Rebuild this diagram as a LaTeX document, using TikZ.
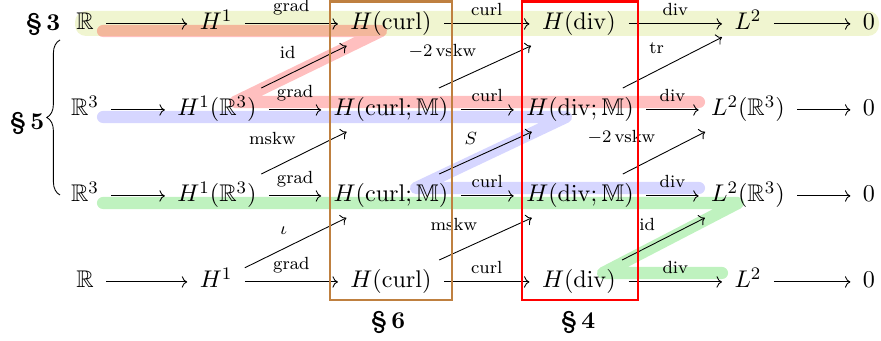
\documentclass[11pt,tikz,border=0pt]{standalone}
\usepackage{amsmath}
\usepackage{amssymb}
\usetikzlibrary{arrows.meta,backgrounds,decorations.pathreplacing}
\definecolor{bandthree}{HTML}{F0F5D0}
\definecolor{secsix}{HTML}{BF8040}

\begin{document}
\begin{tikzpicture}[x=0.454pt, y=-0.454pt,
  sp/.style={anchor=base, inner xsep=5.5pt, inner ysep=4pt, text height=8.5pt, text depth=3pt},
  arr/.style={-{Computer Modern Rightarrow}},
  lbl/.style={font=\scriptsize, midway, above},
  dlbl/.style={font=\scriptsize, midway, above left},
  band/.style={line width=5.5pt, line cap=round, line join=round},
  sec/.style={font=\bfseries}]
\useasboundingbox (0,0) rectangle (881,341);
% row 1: de Rham
\node[sp] (a1) at (85,30) {$\mathbb{R}$};
\node[sp] (b1) at (216,30) {$H^1$};
\node[sp] (c1) at (391,30) {$H(\mathrm{curl})$};
\node[sp] (d1) at (579,30) {$H(\mathrm{div})$};
\node[sp] (e1) at (748,30) {$L^2$};
\node[sp] (f1) at (869,30) {$0$};
% rows 2 and 3: matrix-valued
\node[sp] (a2) at (85,116) {$\mathbb{R}^3$};
\node[sp] (b2) at (217,116) {$H^1(\mathbb{R}^3)$};
\node[sp] (c2) at (391,116) {$H(\mathrm{curl};\mathbb{M})$};
\node[sp] (d2) at (580,116) {$H(\mathrm{div};\mathbb{M})$};
\node[sp] (e2) at (748,116) {$L^2(\mathbb{R}^3)$};
\node[sp] (f2) at (869,116) {$0$};
\node[sp] (a3) at (85,202) {$\mathbb{R}^3$};
\node[sp] (b3) at (217,202) {$H^1(\mathbb{R}^3)$};
\node[sp] (c3) at (391,202) {$H(\mathrm{curl};\mathbb{M})$};
\node[sp] (d3) at (580,202) {$H(\mathrm{div};\mathbb{M})$};
\node[sp] (e3) at (748,202) {$L^2(\mathbb{R}^3)$};
\node[sp] (f3) at (869,202) {$0$};
% row 4
\node[sp] (a4) at (85,288) {$\mathbb{R}$};
\node[sp] (b4) at (216,288) {$H^1$};
\node[sp] (c4) at (391,288) {$H(\mathrm{curl})$};
\node[sp] (d4) at (579,288) {$H(\mathrm{div})$};
\node[sp] (e4) at (748,288) {$L^2$};
\node[sp] (f4) at (869,288) {$0$};
% horizontal maps
\draw[arr] (a1) -- (b1); \draw[arr] (b1) -- node[lbl] {grad} (c1); \draw[arr] (c1) -- node[lbl] {curl} (d1); \draw[arr] (d1) -- node[lbl] {div} (e1); \draw[arr] (e1) -- (f1);
\draw[arr] (a2) -- (b2); \draw[arr] (b2) -- node[lbl] {grad} (c2); \draw[arr] (c2) -- node[lbl] {curl} (d2); \draw[arr] (d2) -- node[lbl] {div} (e2); \draw[arr] (e2) -- (f2);
\draw[arr] (a3) -- (b3); \draw[arr] (b3) -- node[lbl] {grad} (c3); \draw[arr] (c3) -- node[lbl] {curl} (d3); \draw[arr] (d3) -- node[lbl] {div} (e3); \draw[arr] (e3) -- (f3);
\draw[arr] (a4) -- (b4); \draw[arr] (b4) -- node[lbl] {grad} (c4); \draw[arr] (c4) -- node[lbl] {curl} (d4); \draw[arr] (d4) -- node[lbl] {div} (e4); \draw[arr] (e4) -- (f4);
% diagonal maps
\draw[arr] (b2) -- node[dlbl] {id} (c1); \draw[arr] (c2) -- node[dlbl] {$-2\,\mathrm{vskw}$} (d1); \draw[arr] (d2) -- node[dlbl] {tr} (e1);
\draw[arr] (b3) -- node[dlbl] {mskw} (c2); \draw[arr] (c3) -- node[dlbl] {$S$} (d2); \draw[arr] (d3) -- node[dlbl] {$-2\,\mathrm{vskw}$} (e2);
\draw[arr] (b4) -- node[dlbl] {$\iota$} (c3); \draw[arr] (c4) -- node[dlbl] {mskw} (d3); \draw[arr] (d4) -- node[dlbl] {id} (e3);
% highlighted complexes
\begin{scope}[on background layer]
\fill[bandthree, rounded corners=5pt] (75,11) rectangle (879,36);
\draw[band, red, opacity=.25] (103,31) -- (381,31) -- (235,102) -- (699,102);
\draw[band, blue, opacity=.16] (103,117) -- (566,117) -- (416,188) -- (699,188);
\draw[band, green!80!black, opacity=.25] (103,203) -- (738,203) -- (603,273) -- (722,273);
\end{scope}
% sections
\draw[secsix, line width=1.3pt] (330,1.5) rectangle (452,300);
\draw[red, line width=1.3pt] (522,1.5) rectangle (638,300);
\node[sec] (s3) at (43,24) {\S\,3};
\node[sec] (s5) at (27,123) {\S\,5};
\node[sec] (s6) at (388,322) {\S\,6};
\node[sec] (s4) at (578,322) {\S\,4};
\draw[decorate, decoration={brace, amplitude=6pt}] (60,195) -- (60,40);
\end{tikzpicture}
\end{document}
